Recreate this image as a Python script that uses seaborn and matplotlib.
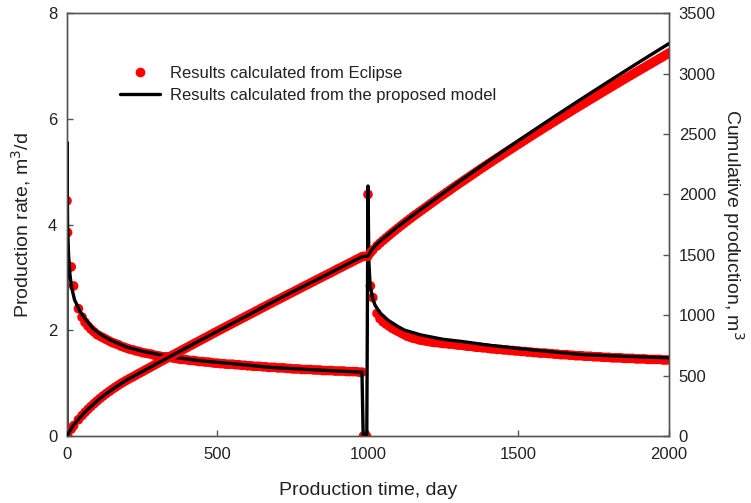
import numpy as np
import pandas as pd
import matplotlib
matplotlib.use('Agg')
import matplotlib.pyplot as plt
from matplotlib.lines import Line2D
import seaborn as sns

# ---- Eclipse results (dots), first production period ----
t1 = [0, 2, 14, 22, 38] + list(range(50, 990, 10)) + [985, 995]
r1 = [4.45, 3.85, 3.20, 2.84, 2.41, 2.25,
      2.15, 2.08, 2.02, 1.97, 1.92, 1.89, 1.86, 1.83, 1.80, 1.77,
      1.75, 1.73, 1.70, 1.68, 1.66, 1.64, 1.63, 1.61, 1.60, 1.58,
      1.57, 1.56, 1.55, 1.53, 1.52, 1.51, 1.50, 1.50, 1.49, 1.48,
      1.47, 1.46, 1.45, 1.45, 1.44, 1.43, 1.43, 1.42, 1.41, 1.41,
      1.40, 1.40, 1.39, 1.38, 1.38, 1.37, 1.37, 1.36, 1.36, 1.36,
      1.35, 1.35, 1.34, 1.34, 1.33, 1.33, 1.32, 1.32, 1.32, 1.31,
      1.31, 1.30, 1.30, 1.30, 1.29, 1.29, 1.29, 1.28, 1.28, 1.27,
      1.27, 1.27, 1.26, 1.26, 1.26, 1.26, 1.25, 1.25, 1.25, 1.24,
      1.24, 1.24, 1.24, 1.23, 1.23, 1.23, 1.23, 1.22, 1.22, 1.22,
      1.22, 1.21, 1.21,
      0.0, 0.0]
c1 = [0, 9, 58, 86, 136, 170,
      197, 222, 246, 269, 291, 312, 332, 351, 369, 387,
      404, 420, 436, 451, 465, 479, 492, 506, 520, 533,
      547, 560, 574, 588, 601, 615, 628, 642, 655, 669,
      682, 695, 709, 722, 735, 749, 762, 775, 788, 802,
      815, 828, 842, 855, 868, 881, 894, 907, 920, 933,
      946, 959, 972, 985, 998, 1011, 1024, 1037, 1050, 1063,
      1076, 1089, 1102, 1115, 1127, 1140, 1153, 1166, 1179, 1191,
      1204, 1217, 1230, 1243, 1255, 1268, 1281, 1294, 1306, 1319,
      1332, 1344, 1357, 1370, 1383, 1395, 1408, 1421, 1433, 1446,
      1459, 1471, 1484,
      1487, 1487]

# ---- Eclipse results (dots), second production period ----
t2 = [1000, 1008, 1016, 1030] + list(range(1040, 2001, 10))
r2 = [4.57, 2.84, 2.62, 2.32,
      2.22, 2.16, 2.12, 2.08, 2.04, 2.01, 1.98, 1.95, 1.92, 1.89,
      1.87, 1.85, 1.84, 1.82, 1.81, 1.80, 1.79, 1.78, 1.77, 1.77,
      1.76, 1.75, 1.75, 1.74, 1.74, 1.73, 1.72, 1.72, 1.71, 1.70,
      1.70, 1.69, 1.68, 1.68, 1.67, 1.67, 1.66, 1.65, 1.65, 1.64,
      1.64, 1.63, 1.63, 1.62, 1.62, 1.61, 1.61, 1.60, 1.60, 1.59,
      1.59, 1.58, 1.58, 1.57, 1.57, 1.57, 1.56, 1.56, 1.55, 1.55,
      1.54, 1.54, 1.54, 1.53, 1.53, 1.52, 1.52, 1.52, 1.51, 1.51,
      1.51, 1.50, 1.50, 1.50, 1.49, 1.49, 1.49, 1.48, 1.48, 1.48,
      1.48, 1.47, 1.47, 1.47, 1.47, 1.46, 1.46, 1.46, 1.46, 1.45,
      1.45, 1.45, 1.45, 1.45, 1.44, 1.44, 1.44]
c2 = [1490, 1518, 1540, 1574,
      1597, 1619, 1640, 1661, 1682, 1702, 1722, 1742, 1761, 1780,
      1799, 1818, 1836, 1854, 1872, 1890, 1908, 1926, 1944, 1962,
      1980, 1997, 2015, 2032, 2050, 2067, 2084, 2101, 2118, 2135,
      2152, 2169, 2186, 2203, 2220, 2236, 2253, 2269, 2286, 2302,
      2318, 2335, 2351, 2367, 2383, 2399, 2415, 2431, 2447, 2463,
      2479, 2495, 2511, 2526, 2542, 2558, 2573, 2589, 2604, 2620,
      2635, 2651, 2666, 2681, 2697, 2712, 2727, 2742, 2757, 2772,
      2787, 2802, 2817, 2832, 2847, 2862, 2877, 2892, 2907, 2921,
      2936, 2951, 2966, 2980, 2995, 3010, 3024, 3039, 3053, 3068,
      3082, 3097, 3111, 3126, 3140, 3155, 3170]

# ---- proposed model (lines) ----
tm_rate = [0, 0, 2, 5, 10, 15, 25, 43, 60, 87, 110, 143, 200, 254, 342, 450,
           550, 674, 800, 900, 980, 984, 996, 1000, 1003, 1007, 1015, 1023,
           1040, 1067, 1100, 1123, 1178, 1250, 1311, 1400, 1494, 1600, 1715,
           1850, 2000]
rm_rate = [0, 5.56, 4.00, 3.45, 3.05, 2.82, 2.58, 2.36, 2.22, 2.03, 1.93, 1.82,
           1.68, 1.60, 1.50, 1.42, 1.37, 1.30, 1.26, 1.23, 1.21, 0, 0, 4.73,
           3.30, 2.85, 2.62, 2.48, 2.33, 2.19, 2.07, 2.00, 1.91, 1.83, 1.79,
           1.72, 1.66, 1.60, 1.54, 1.51, 1.48]
tm_cum = [0, 10, 21, 40, 65, 110, 154, 200, 260, 345, 420, 500, 590, 674, 750,
          830, 900, 980, 985, 995, 1000, 1005, 1012, 1025, 1050, 1100, 1178,
          1250, 1311, 1400, 1500, 1600, 1700, 1800, 1900, 2000]
cm_cum = [0, 45, 88, 145, 212, 313, 393, 467, 547, 662, 762, 868, 985, 1097,
          1195, 1294, 1383, 1484, 1487, 1487, 1490, 1512, 1540, 1578, 1634,
          1735, 1880, 2010, 2120, 2275, 2445, 2612, 2775, 2935, 3093, 3248]

ecl = pd.DataFrame({'t': t1 + t2, 'rate': r1 + r2, 'cum': c1 + c2})
mod_rate = pd.DataFrame({'t': tm_rate, 'v': rm_rate})
mod_cum = pd.DataFrame({'t': tm_cum, 'v': cm_cum})

sns.set_style('ticks')
plt.rcParams['font.family'] = ['Liberation Sans', 'DejaVu Sans']

fig = plt.figure(figsize=(7.51, 5.03), dpi=100)
ax = fig.add_axes([0.0892, 0.133, 0.8016, 0.841])
ax2 = ax.twinx()

red = '#ff0000'
dot_kw = dict(color=red, s=48, edgecolor='none', linewidth=0, zorder=2)
line_kw = dict(color='black', linewidth=2.4, sort=False, estimator=None, zorder=3)

sns.scatterplot(data=ecl, x='t', y='rate', ax=ax, **dot_kw)
sns.lineplot(data=mod_rate, x='t', y='v', ax=ax, **line_kw)
sns.scatterplot(data=ecl, x='t', y='cum', ax=ax2, **dot_kw)
sns.lineplot(data=mod_cum, x='t', y='v', ax=ax2, **line_kw)

ax.set_xlim(0, 2000)
ax.set_ylim(0, 8)
ax2.set_ylim(0, 3500)
ax.set_xticks([0, 500, 1000, 1500, 2000])
ax.set_yticks([0, 2, 4, 6, 8])
ax2.set_yticks(range(0, 3501, 500))

spine_c = '#555555'
txt_c = '#222222'
for a in (ax, ax2):
    for s in a.spines.values():
        s.set_color(spine_c)
        s.set_linewidth(1.0)
    a.tick_params(direction='in', length=4, width=1.0, color=spine_c,
                  labelsize=12, labelcolor=txt_c)
ax.tick_params(axis='x', pad=8)
ax.tick_params(axis='y', pad=7)
ax2.tick_params(axis='y', pad=7)

ax.set_xlabel('Production time, day', fontsize=14, color=txt_c, labelpad=14)
ax.set_ylabel('Production rate, m$^3$/d', fontsize=14, color=txt_c, labelpad=11)
ax2.set_ylabel('Cumulative production, m$^3$', fontsize=14, color=txt_c,
               rotation=270, labelpad=22)

handles = [Line2D([], [], linestyle='none', marker='o', markersize=7,
                  markerfacecolor=red, markeredgecolor='none'),
           Line2D([], [], color='black', linewidth=2.4)]
labels = ['Results calculated from Eclipse',
          'Results calculated from the proposed model']
ax2.legend(handles, labels, loc='upper left', bbox_to_anchor=(0.149, 0.885),
           bbox_transform=fig.transFigure, frameon=False, fontsize=12,
           handlelength=2.4, handletextpad=0.6, labelspacing=0.42,
           borderpad=0, labelcolor=txt_c)

fig.savefig('out.png', dpi=100)
